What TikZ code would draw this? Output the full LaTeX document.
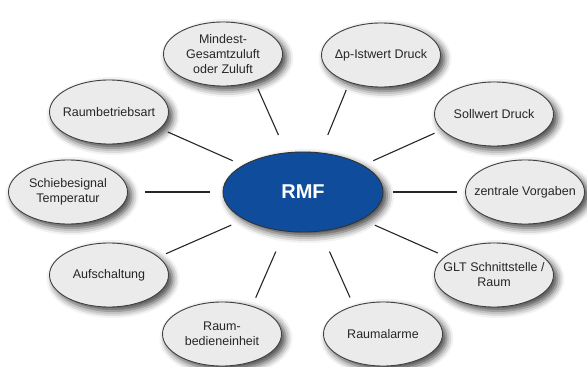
\documentclass[tikz,border=0pt]{standalone}
\usepackage{fontspec}
\setmainfont{Liberation Sans}
\usetikzlibrary{shapes.geometric,shadows.blur}

\definecolor{rmfblue}{HTML}{0F4C9C}
\definecolor{bubblegray}{HTML}{EBEBEB}

\tikzset{
  bubble/.style={ellipse, draw=black!75, fill=bubblegray, line width=0.9pt,
    minimum width=119pt, minimum height=64pt, inner sep=0pt,
    blur shadow={shadow xshift=4pt, shadow yshift=-4pt, shadow blur radius=7pt, shadow opacity=75}},
  txt/.style={align=center, font=\fontsize{12.5}{15}\selectfont, text=black!85},
  hub/.style={ellipse, draw=black!80, fill=rmfblue, line width=0.9pt,
    minimum width=160pt, minimum height=80pt, inner sep=0pt, text=white,
    font=\fontsize{20}{24}\selectfont\bfseries,
    blur shadow={shadow xshift=4pt, shadow yshift=-4pt, shadow blur radius=7pt, shadow opacity=75}},
  spoke/.style={draw=black!85, line width=1.1pt}
}

\begin{document}
\begin{tikzpicture}[x=1pt,y=-1pt]
  \useasboundingbox (0,0) rectangle (587,367);

  % Define nodes for all elements
  \node[hub] (rmf) at (303,192) {RMF};
  \node[bubble, label={[txt]center:{Mindest-\\Gesamtzuluft\\oder Zuluft}}] (mindest) at (223,54) {};
  \node[bubble, label={[txt]center:{Δp-Istwert Druck}}] (dp) at (381,55) {};
  \node[bubble, label={[txt]center:Raumbetriebsart}] (betrieb) at (109,112) {};
  \node[bubble, label={[txt]center:Sollwert Druck}] (soll) at (494,114) {};
  \node[bubble, label={[txt]center:{Schiebesignal\\Temperatur}}] (schiebe) at (68,192) {};
  \node[bubble, label={[txt]center:zentrale Vorgaben}] (zentral) at (525,192) {};
  \node[bubble, label={[txt]center:Aufschaltung}] (aufsch) at (109,275) {};
  \node[bubble, label={[txt]center:{GLT Schnittstelle /\\Raum}}] (glt) at (494,275) {};
  \node[bubble, label={[txt]center:{Raum-\\bedieneinheit}}] (bedien) at (222,334) {};
  \node[bubble, label={[txt]center:Raumalarme}] (alarm) at (383,334) {};

  % Draw spokes
  \foreach \a/\t/\b/\gi/\go in {113/mindest/-41/19/8, 66/dp/-139/19/8,
      156/betrieb/-18/11/8, 24/soll/-163/11/8, 180/schiebe/0/13/17,
      0/zentral/180/10/8, 205/aufsch/20/14/8, 335/glt/159/14/8,
      245/bedien/43/22/9, 294/alarm/136/22/9}
    \draw[spoke, shorten <=\gi pt, shorten >=\go pt] (rmf.\a) -- (\t.\b);
\end{tikzpicture}
\end{document}
